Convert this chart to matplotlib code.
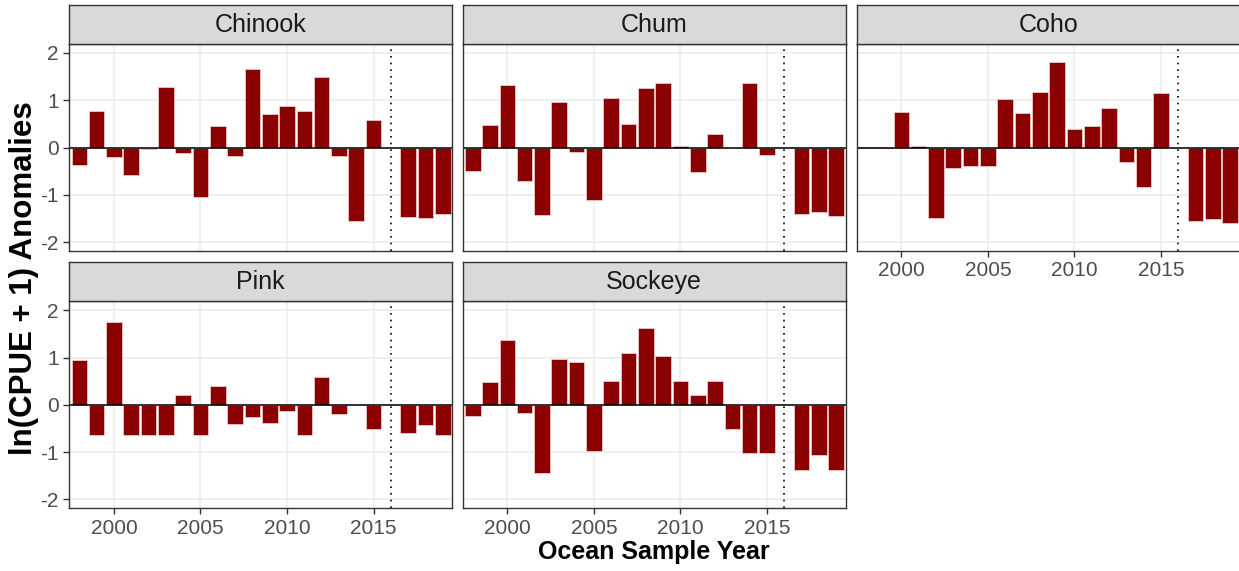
import numpy as np
import matplotlib
matplotlib.use("Agg")
import matplotlib.pyplot as plt

plt.rcParams['font.family'] = ['Liberation Sans', 'DejaVu Sans']
plt.rcParams['axes.unicode_minus'] = False

# 数据：各鲑鱼种类的 ln(CPUE + 1) 距平值，2016 年无数据
years = list(range(1998, 2020))
species = ["Chinook", "Chum", "Coho", "Pink", "Sockeye"]
nan = np.nan

chinook = [-0.37, 0.78, -0.21, -0.58, -0.03, 1.27, -0.12, -1.04, 0.45, -0.18, 1.67,
           0.70, 0.87, 0.77, 1.49, -0.19, -1.55, 0.58, nan, -1.48, -1.49, -1.40]
chum = [-0.50, 0.47, 1.33, -0.71, -1.43, 0.97, -0.09, -1.12, 1.05, 0.50, 1.26,
        1.36, 0.04, -0.51, 0.29, nan, 1.37, -0.16, nan, -1.40, -1.37, -1.45]
coho = [0.02, 0.02, 0.75, 0.03, -1.50, -0.44, -0.40, -0.39, 1.03, 0.73, 1.18,
        1.81, 0.40, 0.46, 0.83, -0.31, -0.84, 1.16, nan, -1.55, -1.51, -1.59]
pink = [0.95, -0.63, 1.75, -0.63, -0.63, -0.63, 0.21, -0.63, 0.40, -0.41, -0.25,
        -0.39, -0.14, -0.63, 0.59, -0.20, nan, -0.52, nan, -0.60, -0.43, -0.63]
sockeye = [-0.24, 0.49, 1.38, -0.18, -1.44, 0.96, 0.91, -0.97, 0.51, 1.09, 1.62,
           1.03, 0.50, 0.21, 0.50, -0.52, -1.01, -1.01, nan, -1.38, -1.06, -1.38]

series = [chinook, chum, coho, pink, sockeye]
cutoff_year = 2016
x_ticks = [2000, 2005, 2010, 2015]
y_ticks = [-2, -1, 0, 1, 2]

W, H = 1239, 571
fig = plt.figure(figsize=(W / 100, H / 100), dpi=100)

col_left = [69.3, 462.7, 856.7]
panel_w = 383.0
# (strip top, axes top, axes bottom) in pixels from the top
rows = [(4.7, 44.0, 251.0), (262.0, 301.3, 508.3)]


def px_rect(left, top, width, height):
    return [left / W, 1 - (top + height) / H, width / W, height / H]


for i, (name, vals) in enumerate(zip(species, series)):
    r, c = divmod(i, 3)
    s_top, a_top, a_bot = rows[r]

    ax = fig.add_axes(px_rect(col_left[c], a_top, panel_w, a_bot - a_top))
    ax.set_axisbelow(True)
    ax.grid(True, color="#EBEBEB", linewidth=1.1)
    ax.bar(years, vals, width=0.9, color="#8B0000", edgecolor="#F3D6D6", linewidth=0.5)
    ax.axhline(0, color="black", linewidth=1.1)
    ax.axvline(cutoff_year, color="black", linewidth=1.2, linestyle=(0, (1, 3)))
    ax.set_xlim(1997.42, 2019.55)
    ax.set_ylim(-2.19, 2.19)
    ax.set_xticks(x_ticks)
    ax.set_yticks(y_ticks)
    for sp in ax.spines.values():
        sp.set_color("#333333")
        sp.set_linewidth(1.0)
    ax.tick_params(colors="#333333", labelcolor="#4D4D4D", labelsize=15, length=4, width=1)

    bottom_row = (r == 1) or (c == 2)
    if not bottom_row:
        ax.tick_params(axis="x", bottom=False, labelbottom=False)
    if c != 0:
        ax.tick_params(axis="y", left=False, labelleft=False)

    # 分面标签条
    sax = fig.add_axes(px_rect(col_left[c], s_top, panel_w, a_top - s_top))
    sax.set_facecolor("#D9D9D9")
    sax.set_xticks([])
    sax.set_yticks([])
    for sp in sax.spines.values():
        sp.set_color("#333333")
        sp.set_linewidth(1.0)
    sax.text(0.5, 0.48, name, transform=sax.transAxes, ha="center", va="center",
             fontsize=18, color="#1A1A1A")

fig.text(653.5 / W, 1 - 552 / H, "Ocean Sample Year", ha="center", va="center",
         fontsize=18, fontweight="bold")
fig.text(24 / W, 1 - 278 / H, "ln(CPUE + 1) Anomalies", ha="center", va="center",
         rotation=90, fontsize=22.5, fontweight="bold")

fig.savefig("out.png", dpi=100)
